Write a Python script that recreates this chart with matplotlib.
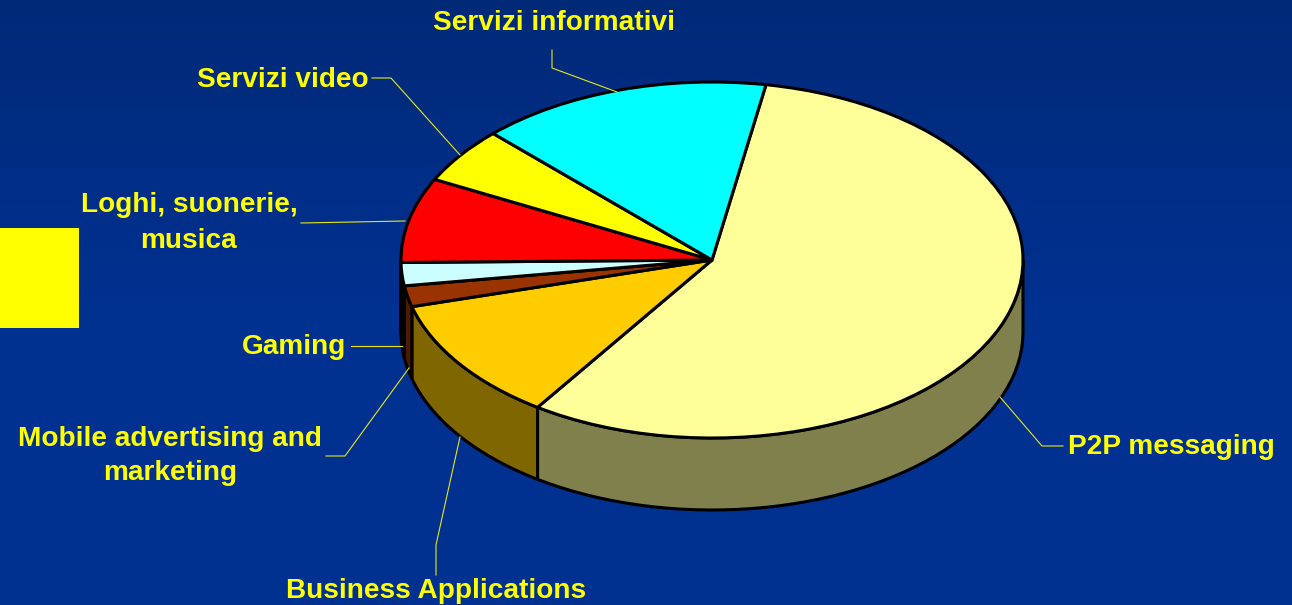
import numpy as np
import matplotlib
matplotlib.use('Agg')
import matplotlib.pyplot as plt
from matplotlib.colors import LinearSegmentedColormap
from matplotlib.patches import Rectangle

# shares, clockwise from the top
names = ["P2P messaging", "Business Applications", "Mobile advertising and\nmarketing", "Gaming",
         "Loghi, suonerie,\nmusica", "Servizi video", "Servizi informativi"]
values = [56.7, 11.3, 1.9, 2.1, 7.7, 5.1, 15.2]
top_colors = ['#FFFF99', '#FFCC00', '#993300', '#CCFFFF', '#FF0000', '#FFFF00', '#00FFFF']
side_colors = ['#80804D', '#806600', '#4D1A00', '#668080', '#800000', '#808000', '#008080']

W, H = 1292, 605
start = 80.0
depth = 72 / 178

# label: x, y, ha
label_pos = [(1068, 447, 'left'), (436, 591, 'center'), (170, 456, 'center'), (346, 347, 'right'),
             (189, 223, 'center'), (369, 80, 'right'), (554, 23, 'center')]
leaders = [[(1063, 446), (1042, 446), (1000, 397)],
           [(436, 575), (436, 545), (460, 437)],
           [(326, 456), (345, 456), (409, 368)],
           [(351, 346), (402, 346)],
           [(301, 223), (405, 221)],
           [(372, 78), (391, 78), (460, 155)],
           [(552, 50), (552, 68), (617, 92)]]

fig = plt.figure(figsize=(W / 100, H / 100), dpi=100)

# background
bg = fig.add_axes([0, 0, 1, 1])
bg.set_xlim(0, W)
bg.set_ylim(H, 0)
bg.axis('off')
cmap = LinearSegmentedColormap.from_list('bg', ['#002A78', '#003090', '#003090'])
bg.imshow(np.linspace(0, 1, 200).reshape(-1, 1), cmap=cmap, aspect='auto', extent=[0, W, H, 0], zorder=0)
bg.add_patch(Rectangle((0, 228), 79, 100, color='#FFFF00', lw=0, zorder=1))

# pie, the axes box is the ellipse of the top face
cx, cy, rx, ry = 712, 260, 311, 178
ax = fig.add_axes([(cx - rx) / W, 1 - (cy + ry) / H, 2 * rx / W, 2 * ry / H])
ax.patch.set_alpha(0)

# side wall, only the front half shows
edges = start - np.cumsum([0] + values) * 3.6
for i in range(len(values)):
    t = np.radians(np.linspace(edges[i], edges[i + 1], 80))
    keep = np.sin(t) <= 0.0
    if keep.sum() < 2:
        continue
    x = np.cos(t[keep])
    y = np.sin(t[keep])
    ax.fill(np.r_[x, x[::-1]], np.r_[y, y[::-1] - depth], facecolor=side_colors[i],
            edgecolor='black', lw=2.2, joinstyle='round', clip_on=False, zorder=1)

wedges, _ = ax.pie(values, colors=top_colors, startangle=start, counterclock=False, radius=1,
                   wedgeprops=dict(edgecolor='black', linewidth=2.2, clip_on=False, zorder=2))
ax.set_aspect('auto')
ax.set_xlim(-1, 1)
ax.set_ylim(-1, 1)
ax.axis('off')

# labels on top
over = fig.add_axes([0, 0, 1, 1])
over.patch.set_alpha(0)
over.set_xlim(0, W)
over.set_ylim(H, 0)
over.axis('off')
for pts in leaders:
    over.plot([p[0] for p in pts], [p[1] for p in pts], color='#E6E619', lw=0.8)
for name, (x, y, ha) in zip(names, label_pos):
    over.text(x, y, name, ha=ha, va='center', multialignment='center', color='#FFFF00',
              fontsize=20.2, fontweight='bold', family='Liberation Sans', linespacing=1.45)

fig.savefig('out.png', dpi=100)
